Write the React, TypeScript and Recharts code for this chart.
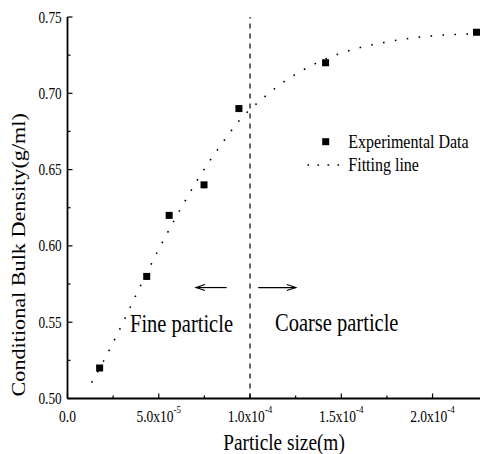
import React from 'react';
import { ComposedChart, XAxis, YAxis, Line, Scatter, ReferenceLine, Legend } from 'recharts';

// Experimental data (particle size in m, conditional bulk density in g/ml)
const expSize = [1.76e-5, 4.34e-5, 5.57e-5, 7.48e-5, 9.39e-5, 1.414e-4, 2.241e-4];
const expDensity = [0.52, 0.58, 0.62, 0.64, 0.69, 0.72, 0.74];

// Fitting line
const fitSize = [1.32e-5, 2.05e-5, 3.0e-5, 3.93e-5, 4.9e-5, 5.93e-5, 7.08e-5, 8.41e-5, 9.39e-5, 1.058e-4, 1.168e-4, 1.279e-4, 1.388e-4, 1.498e-4, 1.611e-4, 1.721e-4, 1.83e-4, 1.94e-4, 2.049e-4, 2.159e-4, 2.24e-4];
const fitDensity = [0.5104, 0.5262, 0.5488, 0.5722, 0.5955, 0.6185, 0.6425, 0.6662, 0.6818, 0.6955, 0.706, 0.7145, 0.7211, 0.7263, 0.7302, 0.733, 0.7353, 0.737, 0.7381, 0.7387, 0.739];

const xTicks = [0, 2.5e-5, 5e-5, 7.5e-5, 1e-4, 1.25e-4, 1.5e-4, 1.75e-4, 2e-4];
const xMajorTicks = [0, 5e-5, 1e-4, 1.5e-4, 2e-4];
const xTickMantissa = ['0.0', '5.0x10', '1.0x10', '1.5x10', '2.0x10'];
const xTickExponent = ['', '-5', '-4', '-4', '-4'];
const xDomain = [0, 2.26e-4];

const yTicks = [0.5, 0.525, 0.55, 0.575, 0.6, 0.625, 0.65, 0.675, 0.7, 0.725, 0.75];
const yMajorTicks = [0.5, 0.55, 0.6, 0.65, 0.7, 0.75];
const yTickLabels = ['0.50', '0.55', '0.60', '0.65', '0.70', '0.75'];
const yDomain = [0.5, 0.75];

const boundarySize = 1e-4;
const arrowDensity = 0.5727;
const fineArrow = [8.72e-5, 7.04e-5];
const coarseArrow = [1.045e-4, 1.251e-4];

const seriesNames = ['Experimental Data', 'Fitting line'];
const xTitle = 'Particle size(m)';
const yTitle = 'Conditional Bulk Density(g/ml)';
const fineLabel = 'Fine particle';
const coarseLabel = 'Coarse particle';

const expData = expSize.map((x, i) => ({ x, y: expDensity[i] }));
const fitData = fitSize.map((x, i) => ({ x, y: fitDensity[i] }));

const FONT = '"Liberation Serif", "Times New Roman", serif';
const STRETCH = 1.23;

const findIdx = (arr: number[], v: number) => arr.findIndex((a) => Math.abs(a - v) < 1e-9);

const BottomTick = (props: any) => {
  const { x, y, payload } = props;
  const i = findIdx(xMajorTicks, payload.value);
  const major = i >= 0;
  return (
    <g>
      <line x1={x} x2={x} y1={y} y2={y - (major ? 5 : 3)} stroke="#000" strokeWidth={1.2} />
      {major && (
        <text
          transform={`translate(${x},${y + 23}) scale(1,${STRETCH})`}
          textAnchor="middle"
          fontFamily={FONT}
          fontSize={13.5}
          fill="#000"
        >
          {xTickMantissa[i]}
          {xTickExponent[i] ? (
            <tspan fontSize={9} dy={-7}>
              {xTickExponent[i]}
            </tspan>
          ) : null}
        </text>
      )}
    </g>
  );
};

const TopTick = (props: any) => {
  const { x, y, payload } = props;
  const major = findIdx(xMajorTicks, payload.value) >= 0;
  return <line x1={x} x2={x} y1={y} y2={y + (major ? 5 : 3)} stroke="#000" strokeWidth={1.2} />;
};

const LeftTick = (props: any) => {
  const { x, y, payload } = props;
  const i = findIdx(yMajorTicks, payload.value);
  const major = i >= 0;
  return (
    <g>
      <line x1={x} x2={x + (major ? 5 : 3)} y1={y} y2={y} stroke="#000" strokeWidth={1.2} />
      {major && (
        <text
          transform={`translate(${x - 5.8},${y + 5.5}) scale(1,${STRETCH})`}
          textAnchor="end"
          fontFamily={FONT}
          fontSize={13.3}
          fill="#000"
        >
          {yTickLabels[i]}
        </text>
      )}
    </g>
  );
};

const SquareDot = (props: any) => {
  const { cx, cy } = props;
  if (cx == null || cy == null) return null;
  return <rect x={cx - 3.5} y={cy - 3.5} width={7} height={7} fill="#000" />;
};

const ArrowShape = (props: any) => {
  const { x1, y1, x2, y2 } = props;
  const dir = Math.sign(x2 - x1) || 1;
  return (
    <g>
      <line x1={x1} y1={y1} x2={x2} y2={y2} stroke="#000" strokeWidth={1.2} />
      <polyline
        points={`${x2 - dir * 9},${y2 - 3} ${x2},${y2} ${x2 - dir * 9},${y2 + 3}`}
        fill="none"
        stroke="#000"
        strokeWidth={1.1}
      />
    </g>
  );
};

const LegendContent = () => (
  <svg width={180} height={50} style={{ display: 'block' }}>
    <rect x={22.2} y={8.2} width={7} height={7} fill="#000" />
    <text
      transform={`translate(48.3,18.3) scale(1,${STRETCH})`}
      fontFamily={FONT}
      fontSize={16}
      fill="#000"
    >
      {seriesNames[0]}
    </text>
    <line x1={7.5} x2={39.5} y1={35} y2={35} stroke="#000" strokeWidth={1.6} strokeDasharray="1.6 8.4" />
    <text
      transform={`translate(48.3,40.7) scale(1,${STRETCH})`}
      fontFamily={FONT}
      fontSize={16}
      fill="#000"
    >
      {seriesNames[1]}
    </text>
  </svg>
);

export default function App() {
  return (
    <div
      style={{
        position: 'fixed',
        left: 8,
        top: 8,
        width: 472,
        height: 446,
        overflow: 'hidden',
        background: '#fff',
      }}
    >
      <ComposedChart width={472} height={446} margin={{ top: 9, right: 0, left: 0, bottom: 0 }}>
        <XAxis
          xAxisId={0}
          dataKey="x"
          type="number"
          domain={xDomain}
          allowDataOverflow
          ticks={xTicks}
          interval={0}
          height={55.5}
          tickSize={0}
          tickMargin={0}
          tick={<BottomTick />}
          axisLine={{ stroke: '#000', strokeWidth: 1.8 }}
          tickLine={false}
        />
        <XAxis
          xAxisId="top"
          orientation="top"
          dataKey="x"
          type="number"
          domain={xDomain}
          allowDataOverflow
          ticks={xTicks}
          interval={0}
          height={0}
          tickSize={0}
          tickMargin={0}
          tick={<TopTick />}
          axisLine={{ stroke: '#000', strokeWidth: 1.8 }}
          tickLine={false}
        />
        <YAxis
          type="number"
          domain={yDomain}
          allowDataOverflow
          ticks={yTicks}
          interval={0}
          width={59.5}
          tickSize={0}
          tickMargin={0}
          tick={<LeftTick />}
          axisLine={{ stroke: '#000', strokeWidth: 1.8 }}
          tickLine={false}
        />
        <ReferenceLine x={boundarySize} stroke="#000" strokeWidth={1.2} strokeDasharray="5 5" />
        <ReferenceLine
          segment={[
            { x: fineArrow[0], y: arrowDensity },
            { x: fineArrow[1], y: arrowDensity },
          ]}
          shape={<ArrowShape />}
        />
        <ReferenceLine
          segment={[
            { x: coarseArrow[0], y: arrowDensity },
            { x: coarseArrow[1], y: arrowDensity },
          ]}
          shape={<ArrowShape />}
        />
        <Line
          data={fitData}
          dataKey="y"
          name={seriesNames[1]}
          type="monotone"
          stroke="#000"
          strokeWidth={1.6}
          strokeDasharray="1.6 10.4"
          dot={false}
          activeDot={false}
          isAnimationActive={false}
        />
        <Scatter
          data={expData}
          dataKey="y"
          name={seriesNames[0]}
          fill="#000"
          shape={<SquareDot />}
          isAnimationActive={false}
        />
        <Legend
          layout="vertical"
          align="center"
          verticalAlign="middle"
          wrapperStyle={{ left: 292, top: 122, width: 180, height: 50 }}
          content={<LegendContent />}
        />
        <text
          transform={`translate(122,323.7) scale(1,${STRETCH})`}
          fontFamily={FONT}
          fontSize={20.5}
          fill="#000"
        >
          {fineLabel}
        </text>
        <text
          transform={`translate(267,323) scale(1,${STRETCH})`}
          fontFamily={FONT}
          fontSize={20.5}
          fill="#000"
        >
          {coarseLabel}
        </text>
        <text
          transform={`translate(276,442) scale(1,${STRETCH})`}
          textAnchor="middle"
          fontFamily={FONT}
          fontSize={19.3}
          fill="#000"
        >
          {xTitle}
        </text>
        <text
          transform={`translate(17,388.5) scale(1,1.15) rotate(-90)`}
          textAnchor="start"
          fontFamily={FONT}
          fontSize={19.3}
          fill="#000"
        >
          {yTitle}
        </text>
      </ComposedChart>
    </div>
  );
}
